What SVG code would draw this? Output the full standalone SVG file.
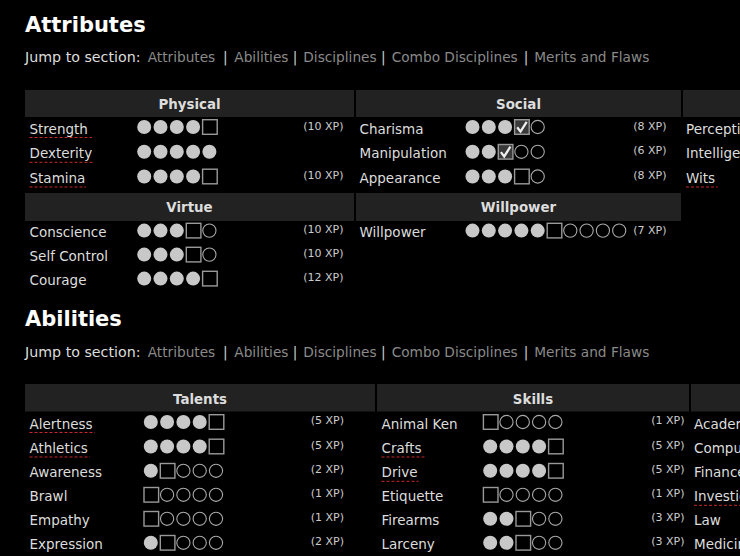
<svg xmlns="http://www.w3.org/2000/svg" width="740" height="556" viewBox="0 0 740 556">
<style>
text{font-family:"DejaVu Sans","Liberation Sans",sans-serif}
.ttl{font-size:21px;font-weight:bold;fill:#fff}
.nav{font-size:13.7px;fill:#ddd}
.lnk{fill:#8a8a8a}
.pipe{fill:#ccc;text-anchor:middle}
.hd{fill:#222}
.ht{font-size:13.4px;font-weight:bold;fill:#ddd;text-anchor:middle}
.lb{font-size:13.5px;fill:#ddd}
.xp{font-size:11px;fill:#ccc;text-anchor:end}
.ul{stroke:#c82828;stroke-width:1;stroke-dasharray:3 2;fill:none}
.dot{fill:#c8c8c8}
</style>
<defs>
<circle id="d" class="dot" cx="7.5" cy="0" r="7"/>
<circle id="o" cx="7.5" cy="0" r="6.6" fill="none" stroke="#a8a8a8" stroke-width="1.1"/>
<rect id="b" x="0.7" y="-7.3" width="14.6" height="14.6" fill="none" stroke="#999" stroke-width="1.4"/>
<g id="c"><rect x="0.7" y="-7.3" width="14.6" height="14.6" fill="#3a3a3a" stroke="#999" stroke-width="1.4"/><path d="M3.3 0.3 L6.6 4.6 L12.8 -5.2" fill="none" stroke="#eee" stroke-width="2.3"/></g>
</defs>
<rect width="740" height="556" fill="#000"/>

<g id="attributes-title">
<text class="ttl" x="25" y="31.5">Attributes</text>
<text class="nav" x="25" y="62.3" textLength="115.5" lengthAdjust="spacingAndGlyphs">Jump to section:</text>
<text class="nav" y="62.3"><tspan class="lnk" x="147.7">Attributes</tspan><tspan class="pipe" x="225.3">|</tspan><tspan class="lnk" x="234.3">Abilities</tspan><tspan class="pipe" x="295">|</tspan><tspan class="lnk" x="303.3">Disciplines</tspan><tspan class="pipe" x="383.3">|</tspan><tspan class="lnk" x="391.7">Combo Disciplines</tspan><tspan class="pipe" x="526">|</tspan><tspan class="lnk" x="534.3">Merits and Flaws</tspan></text>
</g>

<g id="physical">
<rect class="hd" x="25" y="90" width="329" height="27"/>
<text class="ht" x="189.5" y="109">Physical</text>
<text class="lb" x="29.5" y="133.5">Strength</text>
<line class="ul" x1="29.5" y1="137.5" x2="92" y2="137.5"/>
<use href="#d" x="136.7" y="127"/><use href="#d" x="153" y="127"/><use href="#d" x="169.3" y="127"/><use href="#d" x="185.6" y="127"/><use href="#b" x="201.9" y="127"/>
<text class="xp" x="343.5" y="129.5">(10 XP)</text>
<text class="lb" x="29.5" y="158.3">Dexterity</text>
<line class="ul" x1="29.5" y1="162.3" x2="94" y2="162.3"/>
<use href="#d" x="136.7" y="151.8"/><use href="#d" x="153" y="151.8"/><use href="#d" x="169.3" y="151.8"/><use href="#d" x="185.6" y="151.8"/><use href="#d" x="201.9" y="151.8"/>
<text class="lb" x="29.5" y="183">Stamina</text>
<line class="ul" x1="29.5" y1="187" x2="86" y2="187"/>
<use href="#d" x="136.7" y="176.5"/><use href="#d" x="153" y="176.5"/><use href="#d" x="169.3" y="176.5"/><use href="#d" x="185.6" y="176.5"/><use href="#b" x="201.9" y="176.5"/>
<text class="xp" x="343.5" y="179">(10 XP)</text>
</g>

<g id="social">
<rect class="hd" x="356" y="90" width="325" height="27"/>
<text class="ht" x="518.5" y="109">Social</text>
<text class="lb" x="359.5" y="133.5">Charisma</text>
<use href="#d" x="465" y="127"/><use href="#d" x="481.3" y="127"/><use href="#d" x="497.6" y="127"/><use href="#c" x="513.9" y="127"/><use href="#o" x="530.2" y="127"/>
<text class="xp" x="666.5" y="129.5">(8 XP)</text>
<text class="lb" x="359.5" y="158.3">Manipulation</text>
<use href="#d" x="465" y="151.8"/><use href="#d" x="481.3" y="151.8"/><use href="#c" x="497.6" y="151.8"/><use href="#o" x="513.9" y="151.8"/><use href="#o" x="530.2" y="151.8"/>
<text class="xp" x="666.5" y="154.3">(6 XP)</text>
<text class="lb" x="359.5" y="183">Appearance</text>
<use href="#d" x="465" y="176.5"/><use href="#d" x="481.3" y="176.5"/><use href="#d" x="497.6" y="176.5"/><use href="#b" x="513.9" y="176.5"/><use href="#o" x="530.2" y="176.5"/>
<text class="xp" x="666.5" y="179">(8 XP)</text>
</g>

<g id="mental">
<rect class="hd" x="683" y="90" width="57" height="27"/>
<text class="lb" x="686" y="133.5">Perception</text>
<text class="lb" x="686" y="158.3">Intelligence</text>
<text class="lb" x="686" y="183">Wits</text>
<line class="ul" x1="686" y1="187" x2="717.5" y2="187"/>
</g>

<g id="virtue">
<rect class="hd" x="25" y="193" width="329" height="28"/>
<text class="ht" x="189.5" y="212">Virtue</text>
<text class="lb" x="29.5" y="237">Conscience</text>
<use href="#d" x="136.7" y="230.6"/><use href="#d" x="153" y="230.6"/><use href="#d" x="169.3" y="230.6"/><use href="#b" x="185.6" y="230.6"/><use href="#o" x="201.9" y="230.6"/>
<text class="xp" x="343.5" y="233">(10 XP)</text>
<text class="lb" x="29.5" y="261">Self Control</text>
<use href="#d" x="136.7" y="254.6"/><use href="#d" x="153" y="254.6"/><use href="#d" x="169.3" y="254.6"/><use href="#b" x="185.6" y="254.6"/><use href="#o" x="201.9" y="254.6"/>
<text class="xp" x="343.5" y="257">(10 XP)</text>
<text class="lb" x="29.5" y="285">Courage</text>
<use href="#d" x="136.7" y="278.6"/><use href="#d" x="153" y="278.6"/><use href="#d" x="169.3" y="278.6"/><use href="#d" x="185.6" y="278.6"/><use href="#b" x="201.9" y="278.6"/>
<text class="xp" x="343.5" y="281">(12 XP)</text>
</g>

<g id="willpower">
<rect class="hd" x="356" y="193" width="325" height="28"/>
<text class="ht" x="518.5" y="212">Willpower</text>
<text class="lb" x="359.5" y="237">Willpower</text>
<use href="#d" x="465" y="230.6"/><use href="#d" x="481.3" y="230.6"/><use href="#d" x="497.6" y="230.6"/><use href="#d" x="513.9" y="230.6"/><use href="#d" x="530.2" y="230.6"/><use href="#b" x="546.5" y="230.6"/><use href="#o" x="562.8" y="230.6"/><use href="#o" x="579.1" y="230.6"/><use href="#o" x="595.4" y="230.6"/><use href="#o" x="611.7" y="230.6"/>
<text class="xp" x="666.5" y="234">(7 XP)</text>
</g>

<g id="abilities-title">
<text class="ttl" x="25" y="326.3">Abilities</text>
<text class="nav" x="25" y="357.3" textLength="115.5" lengthAdjust="spacingAndGlyphs">Jump to section:</text>
<text class="nav" y="357.3"><tspan class="lnk" x="147.7">Attributes</tspan><tspan class="pipe" x="225.3">|</tspan><tspan class="lnk" x="234.3">Abilities</tspan><tspan class="pipe" x="295">|</tspan><tspan class="lnk" x="303.3">Disciplines</tspan><tspan class="pipe" x="383.3">|</tspan><tspan class="lnk" x="391.7">Combo Disciplines</tspan><tspan class="pipe" x="526">|</tspan><tspan class="lnk" x="534.3">Merits and Flaws</tspan></text>
</g>

<g id="talents">
<rect class="hd" x="25" y="384" width="350" height="27.5"/>
<text class="ht" x="200" y="403.5">Talents</text>
<text class="lb" x="29.5" y="428.5">Alertness</text>
<line class="ul" x1="29.5" y1="432.5" x2="95" y2="432.5"/>
<use href="#d" x="143.3" y="422"/><use href="#d" x="159.6" y="422"/><use href="#d" x="175.9" y="422"/><use href="#d" x="192.2" y="422"/><use href="#b" x="208.5" y="422"/>
<text class="xp" x="344" y="424">(5 XP)</text>
<text class="lb" x="29.5" y="453">Athletics</text>
<line class="ul" x1="29.5" y1="457" x2="90" y2="457"/>
<use href="#d" x="143.3" y="446.5"/><use href="#d" x="159.6" y="446.5"/><use href="#d" x="175.9" y="446.5"/><use href="#d" x="192.2" y="446.5"/><use href="#b" x="208.5" y="446.5"/>
<text class="xp" x="344" y="448.5">(5 XP)</text>
<text class="lb" x="29.5" y="477.3">Awareness</text>
<use href="#d" x="143.3" y="470.8"/><use href="#b" x="159.6" y="470.8"/><use href="#o" x="175.9" y="470.8"/><use href="#o" x="192.2" y="470.8"/><use href="#o" x="208.5" y="470.8"/>
<text class="xp" x="344" y="472.8">(2 XP)</text>
<text class="lb" x="29.5" y="501.3">Brawl</text>
<use href="#b" x="143.3" y="494.8"/><use href="#o" x="159.6" y="494.8"/><use href="#o" x="175.9" y="494.8"/><use href="#o" x="192.2" y="494.8"/><use href="#o" x="208.5" y="494.8"/>
<text class="xp" x="344" y="496.8">(1 XP)</text>
<text class="lb" x="29.5" y="525.3">Empathy</text>
<use href="#b" x="143.3" y="518.8"/><use href="#o" x="159.6" y="518.8"/><use href="#o" x="175.9" y="518.8"/><use href="#o" x="192.2" y="518.8"/><use href="#o" x="208.5" y="518.8"/>
<text class="xp" x="344" y="520.8">(1 XP)</text>
<text class="lb" x="29.5" y="549.3">Expression</text>
<use href="#d" x="143.3" y="542.8"/><use href="#b" x="159.6" y="542.8"/><use href="#o" x="175.9" y="542.8"/><use href="#o" x="192.2" y="542.8"/><use href="#o" x="208.5" y="542.8"/>
<text class="xp" x="344" y="544.8">(2 XP)</text>
</g>

<g id="skills">
<rect class="hd" x="377" y="384" width="312" height="27.5"/>
<text class="ht" x="533" y="403.5">Skills</text>
<text class="lb" x="381.5" y="428.5">Animal Ken</text>
<use href="#b" x="482.7" y="422"/><use href="#o" x="499" y="422"/><use href="#o" x="515.3" y="422"/><use href="#o" x="531.6" y="422"/><use href="#o" x="547.9" y="422"/>
<text class="xp" x="684.5" y="424">(1 XP)</text>
<text class="lb" x="381.5" y="453">Crafts</text>
<line class="ul" x1="381.5" y1="457" x2="425" y2="457"/>
<use href="#d" x="482.7" y="446.5"/><use href="#d" x="499" y="446.5"/><use href="#d" x="515.3" y="446.5"/><use href="#d" x="531.6" y="446.5"/><use href="#b" x="547.9" y="446.5"/>
<text class="xp" x="684.5" y="448.5">(5 XP)</text>
<text class="lb" x="381.5" y="477.3">Drive</text>
<line class="ul" x1="381.5" y1="481.3" x2="418.5" y2="481.3"/>
<use href="#d" x="482.7" y="470.8"/><use href="#d" x="499" y="470.8"/><use href="#d" x="515.3" y="470.8"/><use href="#d" x="531.6" y="470.8"/><use href="#b" x="547.9" y="470.8"/>
<text class="xp" x="684.5" y="472.8">(5 XP)</text>
<text class="lb" x="381.5" y="501.3">Etiquette</text>
<use href="#b" x="482.7" y="494.8"/><use href="#o" x="499" y="494.8"/><use href="#o" x="515.3" y="494.8"/><use href="#o" x="531.6" y="494.8"/><use href="#o" x="547.9" y="494.8"/>
<text class="xp" x="684.5" y="496.8">(1 XP)</text>
<text class="lb" x="381.5" y="525.3">Firearms</text>
<use href="#d" x="482.7" y="518.8"/><use href="#d" x="499" y="518.8"/><use href="#b" x="515.3" y="518.8"/><use href="#o" x="531.6" y="518.8"/><use href="#o" x="547.9" y="518.8"/>
<text class="xp" x="684.5" y="520.8">(3 XP)</text>
<text class="lb" x="381.5" y="549.3">Larceny</text>
<use href="#d" x="482.7" y="542.8"/><use href="#d" x="499" y="542.8"/><use href="#b" x="515.3" y="542.8"/><use href="#o" x="531.6" y="542.8"/><use href="#o" x="547.9" y="542.8"/>
<text class="xp" x="684.5" y="544.8">(3 XP)</text>
</g>

<g id="knowledges">
<rect class="hd" x="691" y="384" width="49" height="27.5"/>
<text class="lb" x="694" y="428.5">Academics</text>
<text class="lb" x="694" y="453">Computer</text>
<text class="lb" x="694" y="477.3">Finance</text>
<text class="lb" x="694" y="501.3">Investigation</text>
<line class="ul" x1="694" y1="505.3" x2="740" y2="505.3"/>
<text class="lb" x="694" y="525.3">Law</text>
<text class="lb" x="694" y="549.3">Medicine</text>
</g>
</svg>
